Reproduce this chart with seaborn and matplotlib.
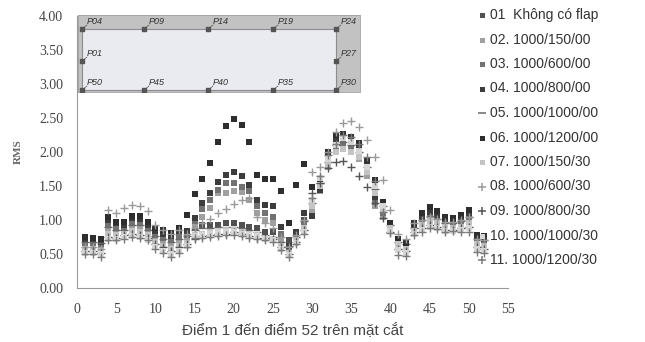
import matplotlib
matplotlib.use("Agg")
import matplotlib.pyplot as plt
from matplotlib.lines import Line2D
import seaborn as sns

# diem 1..52 tren mat cat
points = list(range(1, 53))

s01 = [0.72, 0.72, 0.70, 0.95, 0.92, 0.93, 1.00, 1.00, 0.90, 0.82, 0.78, 0.72, 0.78,
       0.80, 0.90, 0.92, 0.92, 0.93, 0.95, 0.95, 0.92, 0.90, 0.88, 0.83, 0.82, 0.75,
       0.70, 0.80, 1.00, 1.30, 1.60, 1.90, 2.15, 2.20, 2.15, 2.05, 1.85, 1.55, 1.27,
       0.95, 0.72, 0.68, 0.92, 1.05, 1.12, 1.08, 1.00, 0.98, 1.02, 1.10, 0.75, 0.72]
s02 = [0.62, 0.62, 0.60, 0.85, 0.82, 0.83, 0.88, 0.88, 0.82, 0.72, 0.68, 0.64, 0.70,
       0.72, 0.92, 1.05, 1.18, 1.39, 1.40, 1.43, 1.41, 1.30, 1.10, 1.00, 0.95, 0.72,
       0.55, 0.72, 0.90, 1.15, 1.42, 1.78, 2.02, 2.08, 2.00, 1.90, 1.65, 1.20, 1.05,
       0.85, 0.62, 0.58, 0.85, 0.95, 1.00, 0.98, 0.92, 0.90, 0.92, 0.98, 0.66, 0.64]
s03 = [0.66, 0.66, 0.64, 0.92, 0.88, 0.88, 0.95, 0.95, 0.88, 0.78, 0.74, 0.70, 0.76,
       0.78, 0.98, 1.16, 1.30, 1.44, 1.54, 1.54, 1.49, 1.43, 1.20, 1.10, 1.05, 0.80,
       0.58, 0.76, 0.95, 1.24, 1.50, 1.82, 2.08, 2.12, 2.05, 1.95, 1.72, 1.26, 1.10,
       0.88, 0.66, 0.60, 0.88, 1.00, 1.05, 1.02, 0.95, 0.94, 0.97, 1.03, 0.70, 0.68]
s04 = [0.70, 0.70, 0.68, 1.00, 0.95, 0.92, 1.03, 1.02, 0.93, 0.84, 0.80, 0.76, 0.84,
       0.84, 1.03, 1.25, 1.40, 1.56, 1.66, 1.70, 1.65, 1.51, 1.30, 1.22, 1.20, 0.90,
       0.62, 0.83, 1.10, 1.06, 1.44, 1.88, 2.18, 2.22, 2.15, 2.03, 1.80, 1.34, 1.15,
       0.90, 0.70, 0.64, 0.90, 1.05, 1.12, 1.08, 1.00, 0.98, 1.02, 1.10, 0.75, 0.72]
s05 = [0.68, 0.68, 0.66, 0.90, 0.86, 0.86, 0.92, 0.92, 0.86, 0.76, 0.72, 0.68, 0.72,
       0.76, 0.85, 0.88, 0.88, 0.90, 0.90, 0.90, 0.88, 0.85, 0.82, 0.78, 0.75, 0.68,
       0.62, 0.75, 0.98, 1.25, 1.55, 1.85, 2.10, 2.15, 2.10, 2.00, 1.78, 1.45, 1.20,
       0.92, 0.68, 0.64, 0.88, 1.00, 1.06, 1.02, 0.96, 0.95, 0.98, 1.05, 0.72, 0.70]
s06 = [0.75, 0.74, 0.72, 1.05, 0.97, 0.97, 1.06, 1.06, 0.97, 0.88, 0.85, 0.81, 0.88,
       1.08, 1.38, 1.60, 1.84, 2.15, 2.38, 2.49, 2.40, 2.14, 1.66, 1.60, 1.61, 1.42,
       0.96, 1.51, 1.83, 1.49, 1.61, 2.00, 2.25, 2.27, 2.22, 2.13, 1.88, 1.59, 1.27,
       0.95, 0.72, 0.66, 0.95, 1.10, 1.19, 1.13, 1.04, 1.03, 1.07, 1.15, 0.78, 0.77]
s07 = [0.58, 0.57, 0.55, 0.80, 0.78, 0.80, 0.84, 0.83, 0.78, 0.68, 0.62, 0.58, 0.62,
       0.66, 0.78, 0.80, 0.82, 0.84, 0.85, 0.85, 0.83, 0.80, 0.78, 0.74, 0.72, 0.62,
       0.52, 0.70, 0.88, 1.20, 1.50, 1.82, 2.00, 2.05, 2.00, 1.92, 1.70, 1.40, 1.15,
       0.88, 0.64, 0.58, 0.84, 0.92, 0.98, 0.96, 0.90, 0.88, 0.90, 0.95, 0.64, 0.62]
s08 = [0.60, 0.60, 0.58, 1.15, 1.10, 1.18, 1.22, 1.20, 1.13, 0.92, 0.85, 0.80, 0.85,
       0.80, 0.88, 0.95, 1.02, 1.10, 1.16, 1.23, 1.29, 1.32, 1.05, 0.95, 0.88, 0.75,
       0.60, 0.78, 1.00, 1.71, 1.78, 2.00, 2.30, 2.42, 2.45, 2.37, 2.18, 1.93, 1.59,
       1.15, 0.80, 0.72, 0.95, 1.00, 1.05, 1.02, 0.97, 0.97, 1.00, 1.05, 0.72, 0.70]
s09 = [0.55, 0.55, 0.52, 0.75, 0.74, 0.78, 0.80, 0.78, 0.74, 0.65, 0.60, 0.55, 0.60,
       0.64, 0.72, 0.76, 0.78, 0.80, 0.80, 0.82, 0.80, 0.76, 0.74, 0.73, 0.72, 0.60,
       0.50, 0.68, 0.85, 1.39, 1.55, 1.76, 1.86, 1.87, 1.78, 1.64, 1.49, 1.25, 1.03,
       0.82, 0.58, 0.55, 0.82, 0.88, 0.92, 0.90, 0.86, 0.86, 0.88, 0.90, 0.60, 0.57]
s10 = [0.52, 0.52, 0.50, 0.72, 0.72, 0.75, 0.76, 0.75, 0.70, 0.60, 0.55, 0.50, 0.55,
       0.62, 0.76, 0.78, 0.80, 0.82, 0.83, 0.83, 0.80, 0.78, 0.76, 0.72, 0.70, 0.58,
       0.48, 0.66, 0.82, 1.30, 1.62, 1.90, 2.10, 2.20, 2.15, 2.02, 1.78, 1.50, 1.20,
       0.84, 0.56, 0.52, 0.80, 0.86, 0.90, 0.88, 0.84, 0.84, 0.86, 0.88, 0.58, 0.55]
s11 = [0.50, 0.50, 0.46, 0.70, 0.70, 0.72, 0.75, 0.73, 0.70, 0.58, 0.52, 0.46, 0.51,
       0.60, 0.74, 0.73, 0.75, 0.76, 0.78, 0.78, 0.76, 0.74, 0.72, 0.70, 0.68, 0.56,
       0.46, 0.64, 0.80, 1.33, 1.65, 1.95, 2.12, 2.25, 2.22, 2.12, 1.92, 1.57, 1.12,
       0.81, 0.48, 0.47, 0.78, 0.83, 0.88, 0.87, 0.83, 0.84, 0.83, 0.83, 0.53, 0.51]

labels = ["01  Không có flap", "02. 1000/150/00", "03. 1000/600/00", "04. 1000/800/00",
          "05. 1000/1000/00", "06. 1000/1200/00", "07. 1000/150/30", "08. 1000/600/30",
          "09. 1000/800/30", "10. 1000/1000/30", "11. 1000/1200/30"]
series = [s01, s02, s03, s04, s05, s06, s07, s08, s09, s10, s11]
colors = ["#505050", "#a0a0a0", "#727272", "#3c3c3c", "#686868", "#2e2e2e",
          "#c4c4c4", "#9a9a9a", "#555555", "#d6d6d6", "#7a7a7a"]
markers = ["s", "s", "s", "s", "_", "s", "s", "+", "+", "s", "+"]

# so do mat cat (inset)
inset_names = ["P04", "P09", "P14", "P19", "P24", "P01", "P27",
               "P50", "P45", "P40", "P35", "P30"]
inset_x = [0, 62, 126, 191, 254, 0, 254, 0, 62, 126, 191, 254]
inset_y = [61, 61, 61, 61, 61, 29, 29, 0, 0, 0, 0, 0]

sns.set_style("white")
plt.rcParams["font.family"] = ["Liberation Serif", "DejaVu Serif"]

fig = plt.figure(figsize=(6.45, 3.42), dpi=100)
ax = fig.add_axes([77 / 645, 1 - 288 / 342, 431 / 645, 272 / 342])

for vals, col, mk in zip(series, colors, markers):
    if mk == "s":
        sns.scatterplot(x=points, y=vals, marker="s", color=col, s=18,
                        linewidth=0, ax=ax, legend=False, zorder=3)
    else:
        sns.scatterplot(x=points, y=vals, marker=mk, color=col, s=32,
                        linewidth=1.0, ax=ax, legend=False, zorder=3)

ax.set_xlim(0, 55)
ax.set_ylim(0, 4)
ax.set_xticks(range(0, 56, 5))
ax.set_yticks([0, 0.5, 1, 1.5, 2, 2.5, 3, 3.5, 4])
ax.set_yticklabels([f"{v:.2f}" for v in ax.get_yticks()])
for side in ["top", "right"]:
    ax.spines[side].set_visible(False)
for side in ["left", "bottom"]:
    ax.spines[side].set_color("#9a9a9a")
    ax.spines[side].set_linewidth(0.8)
ax.tick_params(axis="both", length=3, width=0.6, color="#9a9a9a",
               labelsize=10, labelcolor="#444444", pad=7)
ax.tick_params(axis="x", direction="inout", length=4, pad=9)
ax.set_ylabel("RMS", fontsize=8, fontweight="bold", color="#666666", labelpad=12)
ax.set_xlabel("Điểm 1 đến điểm 52 trên mặt cắt", fontsize=11, color="#444444",
              family=["Liberation Sans", "DejaVu Sans"], labelpad=4)

# chu giai ben phai, dat tung dong
leg_ax = fig.add_axes([470 / 645, 0, 175 / 645, 1])
leg_ax.set_xlim(0, 175)
leg_ax.set_ylim(342, 0)
leg_ax.axis("off")
for i, (lab, col, mk) in enumerate(zip(labels, colors, markers)):
    row = 15 + i * 24.5
    if mk == "s":
        leg_ax.plot([12], [row], ls="none", marker="s", markersize=3.6,
                    markerfacecolor=col, markeredgewidth=0)
    else:
        leg_ax.plot([12], [row], ls="none", marker=mk, markersize=6,
                    color=col, markeredgewidth=1.1)
    leg_ax.text(20, row, lab, va="center", ha="left", fontsize=10, color="#333333",
                family=["Liberation Sans", "DejaVu Sans"])

# so do vi tri diem do
ins = fig.add_axes([78 / 645, 1 - 92 / 342, 282 / 645, 77 / 342])
ins.set_xlim(-4, 278)
ins.set_ylim(-2, 75)
ins.set_facecolor("#c2c2c2")
ins.add_patch(plt.Rectangle((0, 0), 254, 61, facecolor="#eaebf0", edgecolor="#8c8c8c",
                            linewidth=0.8, zorder=1))
ins.scatter(inset_x, inset_y, marker="s", s=7, color="#555555", zorder=3)
for name, px, py in zip(inset_names, inset_x, inset_y):
    ins.plot([px, px + 5], [py, py + 4], color="#555555", lw=0.5, zorder=2)
    ins.text(px + 5, py + 3, name, fontsize=6.5, style="italic", color="#333333",
             family=["Liberation Sans", "DejaVu Sans"], va="bottom", ha="left", zorder=4)
ins.set_xticks([])
ins.set_yticks([])
for sp in ins.spines.values():
    sp.set_color("#a0a0a0")
    sp.set_linewidth(0.6)

fig.savefig("out.png", dpi=100)
